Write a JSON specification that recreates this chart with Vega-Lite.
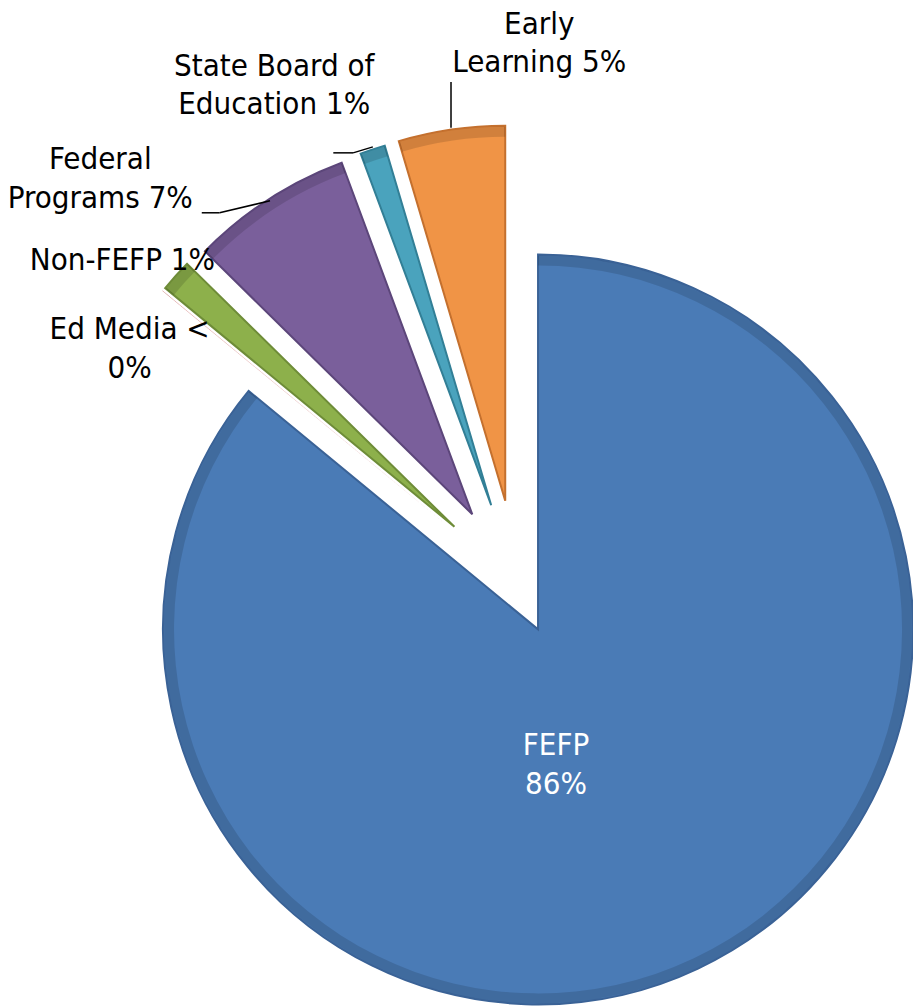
{
  "$schema": "https://vega.github.io/schema/vega-lite/v6.json",
  "width": 913,
  "height": 1008,
  "autosize": {"type": "fit", "contains": "padding"},
  "padding": 0,
  "background": "white",
  "view": {"stroke": null},
  "config": {"font": "DejaVu Sans Condensed, Liberation Sans, sans-serif"},
  "data": {"values": [
    {"order": 1, "category": "FEFP", "value": 85.97, "label": ["FEFP", "86%"]},
    {"order": 2, "category": "Ed Media", "value": 0.01, "label": ["Ed Media <", "0%"]},
    {"order": 3, "category": "Non-FEFP", "value": 1.39, "label": ["Non-FEFP 1%"]},
    {"order": 4, "category": "Federal Programs", "value": 6.97, "label": ["Federal", "Programs 7%"]},
    {"order": 5, "category": "State Board of Education", "value": 1.08, "label": ["State Board of", "Education 1%"]},
    {"order": 6, "category": "Early Learning", "value": 4.58, "label": ["Early", "Learning 5%"]}
  ]},
  "transform": [
    {"window": [{"op": "sum", "field": "value", "as": "end"}], "sort": [{"field": "order", "order": "ascending"}], "frame": [null, 0]},
    {"joinaggregate": [{"op": "sum", "field": "value", "as": "total"}]},
    {"calculate": "datum.end - datum.value", "as": "start"},
    {"calculate": "PI * (datum.start + datum.end) / datum.total", "as": "ang"},
    {"calculate": "0.63 * datum.ang + 0.37 * 335 * PI / 180", "as": "dir"},
    {"calculate": "datum.category == 'FEFP' ? 0 : 133 * sin(datum.dir)", "as": "ex"},
    {"calculate": "datum.category == 'FEFP' ? 0 : 133 * cos(datum.dir)", "as": "ey"}
  ],
  "encoding": {
    "x": {"field": "ex", "type": "quantitative", "stack": null, "axis": null, "scale": {"domain": [-544, 369], "nice": false, "zero": false}},
    "y": {"field": "ey", "type": "quantitative", "stack": null, "axis": null, "scale": {"domain": [-378, 630], "nice": false, "zero": false}}
  },
  "layer": [
    {
      "mark": {"type": "arc", "radius": 375, "strokeWidth": 2},
      "encoding": {
        "theta": {"field": "start", "type": "quantitative", "stack": null, "scale": {"domain": [0, 100], "nice": false}},
        "theta2": {"field": "end"},
        "color": {"field": "category", "type": "nominal", "legend": null,
          "scale": {"domain": ["FEFP", "Ed Media", "Non-FEFP", "Federal Programs", "State Board of Education", "Early Learning"],
                    "range": ["#4A7BB6", "#C0504D", "#8DB04B", "#7A5F9B", "#4AA3BD", "#F09446"]}},
        "stroke": {"field": "category", "type": "nominal", "legend": null,
          "scale": {"domain": ["FEFP", "Ed Media", "Non-FEFP", "Federal Programs", "State Board of Education", "Early Learning"],
                    "range": ["#3A6296", "transparent", "#6E8C38", "#5C467A", "#327F96", "#C4702E"]}}
      }
    },
    {
      "mark": {"type": "arc", "radius": 374, "radius2": 364, "color": "black", "fillOpacity": 0.13, "strokeWidth": 0},
      "encoding": {
        "theta": {"field": "start", "type": "quantitative", "stack": null},
        "theta2": {"field": "end"}
      }
    },
    {
      "transform": [{"filter": "datum.category == 'FEFP'"}],
      "mark": {"type": "text", "align": "center", "baseline": "middle", "fontSize": 31, "lineHeight": 39, "color": "white", "dx": 18, "dy": 117},
      "encoding": {"text": {"field": "label"}}
    },
    {
      "transform": [{"filter": "datum.category == 'Early Learning'"}],
      "mark": {"type": "text", "align": "center", "baseline": "middle", "fontSize": 31, "lineHeight": 38, "color": "black", "dx": 34, "dy": -476},
      "encoding": {"text": {"field": "label"}}
    },
    {
      "transform": [{"filter": "datum.category == 'State Board of Education'"}],
      "mark": {"type": "text", "align": "center", "baseline": "middle", "fontSize": 31, "lineHeight": 38, "color": "black", "dx": -217, "dy": -438},
      "encoding": {"text": {"field": "label"}}
    },
    {
      "transform": [{"filter": "datum.category == 'Federal Programs'"}],
      "mark": {"type": "text", "align": "center", "baseline": "middle", "fontSize": 31, "lineHeight": 39, "color": "black", "dx": -372, "dy": -354},
      "encoding": {"text": {"field": "label"}}
    },
    {
      "transform": [{"filter": "datum.category == 'Non-FEFP'"}],
      "mark": {"type": "text", "align": "center", "baseline": "middle", "fontSize": 31, "lineHeight": 39, "color": "black", "dx": -332, "dy": -266},
      "encoding": {"text": {"field": "label"}}
    },
    {
      "transform": [{"filter": "datum.category == 'Ed Media'"}],
      "mark": {"type": "text", "align": "center", "baseline": "middle", "fontSize": 31, "lineHeight": 39, "color": "black", "dx": -322, "dy": -199},
      "encoding": {"text": {"field": "label"}}
    },
    {
      "transform": [{"filter": "datum.category == 'Federal Programs'"}],
      "mark": {"type": "rule", "color": "black", "strokeWidth": 1.5},
      "encoding": {
        "x": {"datum": -340, "type": "quantitative"}, "x2": {"datum": -322},
        "y": {"datum": 417, "type": "quantitative"}, "y2": {"datum": 417}
      }
    },
    {
      "transform": [{"filter": "datum.category == 'Federal Programs'"}],
      "mark": {"type": "rule", "color": "black", "strokeWidth": 1.5},
      "encoding": {
        "x": {"datum": -322, "type": "quantitative"}, "x2": {"datum": -271},
        "y": {"datum": 417, "type": "quantitative"}, "y2": {"datum": 429}
      }
    },
    {
      "transform": [{"filter": "datum.category == 'State Board of Education'"}],
      "mark": {"type": "rule", "color": "black", "strokeWidth": 1.5},
      "encoding": {
        "x": {"datum": -207, "type": "quantitative"}, "x2": {"datum": -187},
        "y": {"datum": 477, "type": "quantitative"}, "y2": {"datum": 477}
      }
    },
    {
      "transform": [{"filter": "datum.category == 'State Board of Education'"}],
      "mark": {"type": "rule", "color": "black", "strokeWidth": 1.5},
      "encoding": {
        "x": {"datum": -187, "type": "quantitative"}, "x2": {"datum": -167},
        "y": {"datum": 477, "type": "quantitative"}, "y2": {"datum": 483}
      }
    },
    {
      "transform": [{"filter": "datum.category == 'Early Learning'"}],
      "mark": {"type": "rule", "color": "black", "strokeWidth": 1.5},
      "encoding": {
        "x": {"datum": -88, "type": "quantitative"}, "x2": {"datum": -88},
        "y": {"datum": 548, "type": "quantitative"}, "y2": {"datum": 502}
      }
    }
  ]
}
